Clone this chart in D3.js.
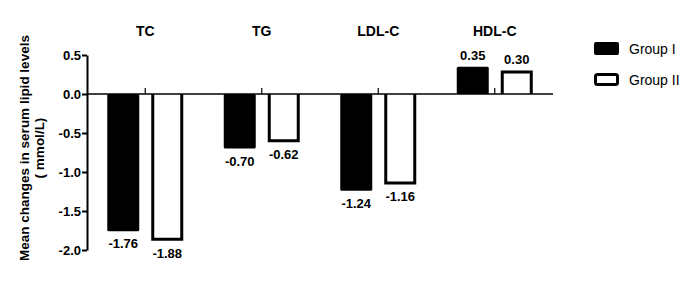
<!DOCTYPE html>
<html>
<head>
<meta charset="utf-8">
<script src="https://cdn.jsdelivr.net/npm/d3@7"></script>
<style>
  body { margin: 0; background: #fff; }
  text { font-family: Arial, "Liberation Sans", sans-serif; }
</style>
</head>
<body>
<div id="chart"></div>
<script>
// lipid categories and mean changes (mmol/L)
var categories = ["TC", "TG", "LDL-C", "HDL-C"];
var groupI = [-1.76, -0.70, -1.24, 0.35];
var groupII = [-1.88, -0.62, -1.16, 0.30];
var yTicks = [0.5, 0.0, -0.5, -1.0, -1.5, -2.0];
var seriesNames = ["Group I", "Group II"];

var width = 700, height = 287;

var svg = d3.select("#chart").append("svg")
    .attr("width", width)
    .attr("height", height);

var x = d3.scaleBand().domain(categories).range([87, 553]);
var y = d3.scaleLinear().domain([-2.0, 0.5]).range([250, 55]);

var barW = 32, gap = 6;

// y axis
var yAxis = d3.axisLeft(y).tickValues(yTicks).tickSize(5).tickSizeOuter(0);
var ga = svg.append("g").attr("transform", "translate(87,0)").call(yAxis);
ga.select(".domain").attr("stroke-width", 2);
ga.selectAll(".tick line").attr("stroke-width", 2);
ga.selectAll(".tick text")
    .attr("x", -6)
    .style("font-size", "13px")
    .style("font-weight", "bold")
    .attr("fill", "#000")
    .text(function (d) { return d.toFixed(1); });

// y title
svg.append("text")
    .attr("transform", "translate(29,148) rotate(-90)")
    .attr("text-anchor", "middle")
    .style("font-size", "13.5px")
    .style("font-weight", "bold")
    .text("Mean changes in serum lipid levels");
svg.append("text")
    .attr("transform", "translate(44,148) rotate(-90)")
    .attr("text-anchor", "middle")
    .style("font-size", "13.5px")
    .style("font-weight", "bold")
    .text("( mmol/L)");

// category titles
svg.selectAll(".cat").data(categories).enter().append("text")
    .attr("x", function (d) { return x(d) + x.bandwidth() / 2; })
    .attr("y", 36)
    .attr("text-anchor", "middle")
    .style("font-size", "14px")
    .style("font-weight", "bold")
    .text(function (d) { return d; });

// group I bars (filled)
svg.selectAll(".b1").data(categories).enter().append("rect")
    .attr("x", function (d) { return x(d) + x.bandwidth() / 2 - gap - barW; })
    .attr("y", function (d, i) { return y(Math.max(0, groupI[i])); })
    .attr("width", barW)
    .attr("height", function (d, i) { return Math.abs(y(groupI[i]) - y(0)); })
    .attr("rx", 1.5)
    .attr("fill", "#000");

// group II bars (outline, open at the zero line)
svg.selectAll(".b2").data(categories).enter().append("path")
    .attr("d", function (d, i) {
        var x0 = x(d) + x.bandwidth() / 2 + gap + 1.5;
        var x1 = x0 + barW - 3;
        var yv = y(groupII[i]) + (groupII[i] < 0 ? -1.5 : 1.5);
        return "M" + x0 + "," + y(0) + "V" + yv + "H" + x1 + "V" + y(0);
    })
    .attr("fill", "none")
    .attr("stroke", "#000")
    .attr("stroke-width", 3);

// zero line
svg.append("line")
    .attr("x1", 87).attr("x2", 553)
    .attr("y1", y(0)).attr("y2", y(0))
    .attr("stroke", "#000")
    .attr("stroke-width", 1.5);

// category ticks on zero line
svg.selectAll(".ct").data(categories).enter().append("line")
    .attr("x1", function (d) { return x(d) + x.bandwidth() / 2; })
    .attr("x2", function (d) { return x(d) + x.bandwidth() / 2; })
    .attr("y1", y(0)).attr("y2", y(0) - 6)
    .attr("stroke", "#000")
    .attr("stroke-width", 1.2);

// value labels
function fmt(v) { return v.toFixed(2); }
svg.selectAll(".l1").data(categories).enter().append("text")
    .attr("x", function (d) { return x(d) + x.bandwidth() / 2 - gap - barW / 2; })
    .attr("y", function (d, i) { return groupI[i] < 0 ? y(groupI[i]) + 17 : y(groupI[i]) - 7; })
    .attr("text-anchor", "middle")
    .style("font-size", "13px")
    .style("font-weight", "bold")
    .text(function (d, i) { return fmt(groupI[i]); });
svg.selectAll(".l2").data(categories).enter().append("text")
    .attr("x", function (d) { return x(d) + x.bandwidth() / 2 + gap + barW / 2; })
    .attr("y", function (d, i) { return groupII[i] < 0 ? y(groupII[i]) + 17 : y(groupII[i]) - 7; })
    .attr("text-anchor", "middle")
    .style("font-size", "13px")
    .style("font-weight", "bold")
    .text(function (d, i) { return fmt(groupII[i]); });

// legend
var lg = svg.selectAll(".lg").data(seriesNames).enter().append("g")
    .attr("transform", function (d, i) { return "translate(594," + (42 + i * 31) + ")"; });
lg.append("rect")
    .attr("x", function (d, i) { return i ? 1.5 : 0; })
    .attr("y", function (d, i) { return i ? 1.5 : 0; })
    .attr("width", function (d, i) { return i ? 22 : 25; })
    .attr("height", function (d, i) { return i ? 10 : 13; })
    .attr("rx", 2)
    .attr("fill", function (d, i) { return i ? "#fff" : "#000"; })
    .attr("stroke", "#000")
    .attr("stroke-width", function (d, i) { return i ? 3 : 0; });
lg.append("text")
    .attr("x", 35)
    .attr("y", 12)
    .style("font-size", "14px")
    .text(function (d) { return d; });
</script>
</body>
</html>
